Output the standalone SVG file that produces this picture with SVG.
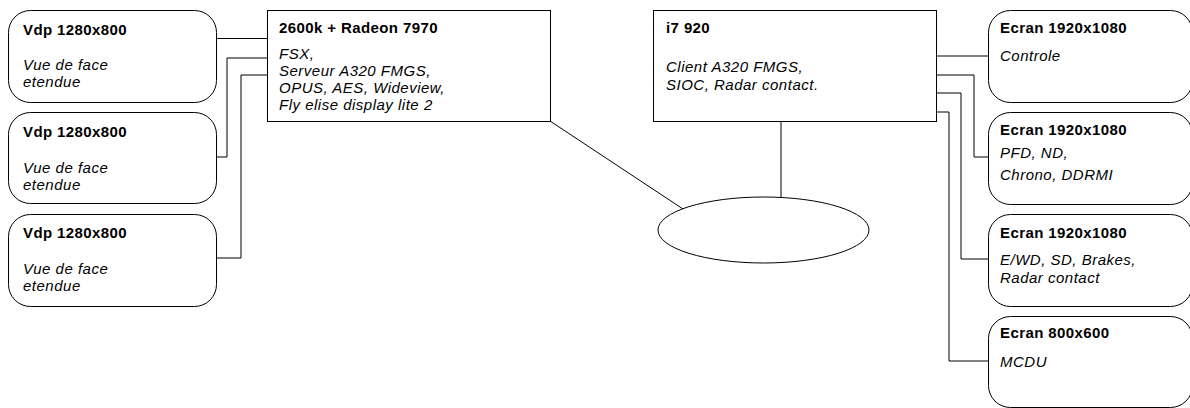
<svg xmlns="http://www.w3.org/2000/svg" width="1190" height="408" viewBox="0 0 1190 408">
<style>
.box{fill:#fff;stroke:#000;stroke-width:1}
.t{font-family:"Liberation Sans",Arial,sans-serif;font-size:15px;font-weight:bold;letter-spacing:0.4px;fill:#000}
.i{font-family:"Liberation Sans",Arial,sans-serif;font-size:15px;font-style:italic;letter-spacing:0.5px;fill:#000}
.c{fill:none;stroke:#000;stroke-width:1}
</style>
<rect width="1190" height="408" fill="#fff"/>
<g id="connectors">
<path class="c" d="M216,38.5 H267"/>
<path class="c" d="M267,58 H227 V157 H216"/>
<path class="c" d="M267,75 H241 V258 H216"/>
<path class="c" d="M550,121 L683,209"/>
<path class="c" d="M781,121 V197"/>
<path class="c" d="M937,56 H988"/>
<path class="c" d="M937,75 H974 V157 H988"/>
<path class="c" d="M937,93 H961 V259 H988"/>
<path class="c" d="M937,112 H949 V361 H988"/>
</g>
<g id="vdp1">
<rect class="box" x="8.5" y="10.5" width="208" height="92" rx="22" ry="22"/>
<text class="t" x="23" y="35">Vdp 1280x800</text>
<text class="i" x="23" y="70">Vue de face</text>
<text class="i" x="23" y="87">etendue</text>
</g>
<g id="vdp2">
<rect class="box" x="8.5" y="112.5" width="208" height="91" rx="22" ry="22"/>
<text class="t" x="23" y="137">Vdp 1280x800</text>
<text class="i" x="23" y="173">Vue de face</text>
<text class="i" x="23" y="190">etendue</text>
</g>
<g id="vdp3">
<rect class="box" x="8.5" y="214.5" width="208" height="92" rx="22" ry="22"/>
<text class="t" x="23" y="238">Vdp 1280x800</text>
<text class="i" x="23" y="274">Vue de face</text>
<text class="i" x="23" y="291">etendue</text>
</g>
<g id="pc2600k">
<rect class="box" x="267.5" y="10.5" width="283" height="111"/>
<text class="t" x="279" y="33">2600k + Radeon 7970</text>
<text class="i" x="279" y="59">FSX,</text>
<text class="i" x="279" y="76">Serveur A320 FMGS,</text>
<text class="i" x="279" y="93">OPUS, AES, Wideview,</text>
<text class="i" x="279" y="110">Fly elise display lite 2</text>
</g>
<g id="i7">
<rect class="box" x="653.5" y="10.5" width="283" height="111"/>
<text class="t" x="666" y="33">i7 920</text>
<text class="i" x="666" y="72">Client A320 FMGS,</text>
<text class="i" x="666" y="90">SIOC, Radar contact.</text>
</g>
<g id="network">
<ellipse class="box" cx="763.5" cy="230" rx="105.5" ry="33"/>
</g>
<g id="ecran1">
<rect class="box" x="988.5" y="10.5" width="204" height="92" rx="22" ry="22"/>
<text class="t" x="1000" y="33">Ecran 1920x1080</text>
<text class="i" x="1000" y="61">Controle</text>
</g>
<g id="ecran2">
<rect class="box" x="988.5" y="112.5" width="204" height="92" rx="22" ry="22"/>
<text class="t" x="1000" y="135">Ecran 1920x1080</text>
<text class="i" x="1000" y="158">PFD, ND,</text>
<text class="i" x="1000" y="180">Chrono, DDRMI</text>
</g>
<g id="ecran3">
<rect class="box" x="988.5" y="214.5" width="204" height="92" rx="22" ry="22"/>
<text class="t" x="1000" y="238">Ecran 1920x1080</text>
<text class="i" x="1000" y="265">E/WD, SD, Brakes,</text>
<text class="i" x="1000" y="283">Radar contact</text>
</g>
<g id="ecran4">
<rect class="box" x="988.5" y="316.5" width="204" height="91" rx="22" ry="22"/>
<text class="t" x="1000" y="338">Ecran 800x600</text>
<text class="i" x="1000" y="367">MCDU</text>
</g>
</svg>
